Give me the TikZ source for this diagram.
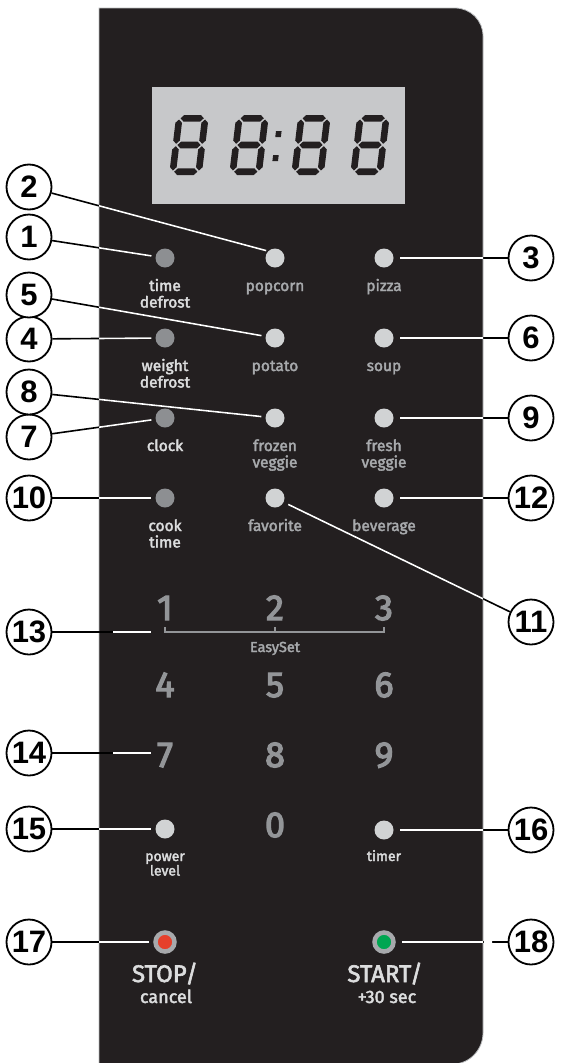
\documentclass[tikz,border=0pt]{standalone}
\usepackage{fontspec}
\setmainfont{Fira Sans}[FakeBold=2.4]
\newfontfamily\keyfont{Fira Sans}[FakeBold=3.5]
\newfontfamily\calloutfont{Liberation Sans}
\definecolor{panel}{HTML}{231F20}
\definecolor{lcd}{HTML}{C7C8CA}
\definecolor{btndark}{HTML}{8D8F92}
\definecolor{btnlight}{HTML}{D1D3D4}
\definecolor{lblwhite}{HTML}{DCDDDE}
\definecolor{lblgray}{HTML}{A7A9AC}
\definecolor{keygray}{HTML}{939598}
\definecolor{ringgray}{HTML}{A7A9AC}
\definecolor{stopred}{HTML}{E5402C}
\definecolor{startgreen}{HTML}{00A651}
\definecolor{edgegray}{HTML}{BCBEC0}
\newcommand\hseg[1]{\fill[panel] (-11.6,#1) -- (-8.3,#1-3.3) -- (8.3,#1-3.3) -- (11.6,#1) -- (8.3,#1+3.3) -- (-8.3,#1+3.3) -- cycle;}
\newcommand\vseg[3]{\fill[panel] (#1,#2+1.2) -- (#1+3.3,#2+4.5) -- (#1+3.3,#3-4.5) -- (#1,#3-1.2) -- (#1-3.3,#3-4.5) -- (#1-3.3,#2+4.5) -- cycle;}
\newcommand\eightdigit[1]{\begin{scope}[shift={(#1,145)},xslant=0.12]
\hseg{-26.7}\hseg{0}\hseg{26.7}\vseg{-13}{-26.7}{0}\vseg{13}{-26.7}{0}\vseg{-13}{0}{26.7}\vseg{13}{0}{26.7}
\end{scope}}
\begin{document}
\begin{tikzpicture}[x=1pt,y=-1pt,
  btndk/.style={circle,inner sep=0pt,minimum size=19pt,fill=btndark},
  btnlt/.style={circle,inner sep=0pt,minimum size=19pt,fill=btnlight},
  btnring/.style={circle,inner sep=0pt,minimum size=19pt,draw=ringgray,line width=4.5pt},
  lbl/.style={align=center,anchor=base,inner sep=0pt,font=\fontsize{15.5}{16.5}\selectfont},
  smalllbl/.style={align=center,anchor=base,inner sep=0pt,text=lblwhite,font=\fontsize{14}{14.5}\selectfont},
  keynum/.style={anchor=base,inner sep=0pt,text=keygray,font=\keyfont\fontsize{36}{36}\selectfont},
  callout/.style={circle,draw=black,line width=1.8pt,fill=white,minimum size=45pt,inner sep=0pt,font=\calloutfont\bfseries\fontsize{31}{31}\selectfont},
  conn/.style={line width=1.6pt},
  leftc/.style={conn,shorten >=4pt},
  rightc/.style={conn,shorten >=6pt}]
\fill[white] (0,0) rectangle (560,1063);
\useasboundingbox (0,0) rectangle (560,1063);
% panel
\filldraw[fill=panel,draw=edgegray,line width=0.8pt] (99,1064) -- (99,8) -- (455,8) .. controls (470.5,8) and (483,20.5) .. (483,36) -- (483,1033) .. controls (483,1049.6) and (469.6,1064) .. (453,1064) -- cycle;
% display
\fill[lcd] (152,87) rectangle (405,204);
\eightdigit{189}\eightdigit{249}\eightdigit{311}\eightdigit{370}
\begin{scope}[shift={(277,146)},xslant=0.12]
\fill[panel] (-2.8,-15) rectangle (2.8,-9);
\fill[panel] (-2.8,9) rectangle (2.8,15);
\end{scope}
% buttons
\node[btndk] (b1) at (165,258) {};
\node[btnlt] (b2) at (275,258) {};
\node[btnlt] (b3) at (384,258) {};
\node[btndk] (b4) at (165,338) {};
\node[btnlt] (b5) at (275,338) {};
\node[btnlt] (b6) at (384,338) {};
\node[btndk] (b7) at (165,418) {};
\node[btnlt] (b8) at (275,418) {};
\node[btnlt] (b9) at (384,418) {};
\node[btndk] (b10) at (165,498) {};
\node[btnlt] (b11) at (275,498) {};
\node[btnlt] (b12) at (384,498) {};
\node[btnlt] (b15) at (165,829) {};
\node[btnlt] (b16) at (384,830) {};
\node[btnring,fill=stopred] (b17) at (165,942) {};
\node[btnring,fill=startgreen] (b18) at (384,942) {};
\coordinate (t13) at (151,632);
\coordinate (t14) at (151,753);
% labels (anchor = baseline of the last line)
\node[lbl,text=lblwhite] (l1) at (165,307.5) {time\\defrost};
\node[lbl,text=lblgray] (l2) at (275,291) {popcorn};
\node[lbl,text=lblgray] (l3) at (384,291) {pizza};
\node[lbl,text=lblwhite] (l4) at (165,387.5) {weight\\defrost};
\node[lbl,text=lblgray] (l5) at (275,371) {potato};
\node[lbl,text=lblgray] (l6) at (384,371) {soup};
\node[lbl,text=lblwhite] (l7) at (165,451) {clock};
\node[lbl,text=lblgray] (l8) at (275,467.5) {frozen\\veggie};
\node[lbl,text=lblgray] (l9) at (384,467.5) {fresh\\veggie};
\node[lbl,text=lblwhite] (l10) at (165,547.5) {cook\\time};
\node[lbl,text=lblgray] (l11) at (275,531) {favorite};
\node[lbl,text=lblgray] (l12) at (384,531) {beverage};
\node[smalllbl] (l15) at (165,875.5) {power\\level};
\node[smalllbl] (l16) at (384,861) {timer};
\node[anchor=base,inner sep=0pt,text=lblwhite,font=\fontsize{24}{24}\selectfont] (l17a) at (165,982) {STOP/};
\node[anchor=base,inner sep=0pt,text=lblwhite,font=\fontsize{18}{18}\selectfont] (l17b) at (166,1003) {cancel};
\node[anchor=base,inner sep=0pt,text=lblwhite,font=\fontsize{24}{24}\selectfont] (l18a) at (385,982) {START/};
\node[anchor=base,inner sep=0pt,text=lblwhite,font=\fontsize{18}{18}\selectfont] (l18b) at (387,1003) {+30 sec};
% keypad
\node[keynum] (k1) at (165,620) {1};
\node[keynum] (k2) at (275,620) {2};
\node[keynum] (k3) at (384,620) {3};
\node[keynum] (k4) at (165,697) {4};
\node[keynum] (k5) at (275,697) {5};
\node[keynum] (k6) at (384,697) {6};
\node[keynum] (k7) at (165,767) {7};
\node[keynum] (k8) at (275,767) {8};
\node[keynum] (k9) at (384,767) {9};
\node[keynum] (k0) at (275,837) {0};
\draw[keygray,line width=1.2pt] (165,627) -- (165,632) -- (384,632) -- (384,627) (275,627) -- (275,632);
\node[anchor=base,inner sep=0pt,text=lblgray,font=\fontsize{14.5}{14.5}\selectfont] (easy) at (275,652) {EasySet};
% callouts
\node[callout] (c1) at (29,237) {1};
\node[callout] (c2) at (29,187) {2};
\node[callout] (c3) at (531,258) {3};
\node[callout] (c4) at (29,339) {4};
\node[callout] (c5) at (29,295) {5};
\node[callout] (c6) at (531,338) {6};
\node[callout] (c7) at (29,437) {7};
\node[callout] (c8) at (29,392) {8};
\node[callout] (c9) at (531,418) {9};
\node[callout] (c10) at (29,498) {10};
\node[callout] (c11) at (531,622) {11};
\node[callout] (c12) at (531,498) {12};
\node[callout] (c13) at (29,632) {13};
\node[callout] (c14) at (29,753) {14};
\node[callout] (c15) at (29,829) {15};
\node[callout] (c16) at (531,830) {16};
\node[callout] (c17) at (29,942) {17};
\node[callout] (c18) at (531,942) {18};
% connectors, black
\begin{scope}[black]
\draw[leftc] (c1) -- (b1);
\draw[leftc,shorten >=2pt] (c2) -- (b2.north west);
\draw[rightc] (c3) -- (b3);
\draw[leftc] (c4) -- (b4);
\draw[leftc] (c5) -- (b5);
\draw[rightc] (c6) -- (b6);
\draw[leftc] (c7) -- (b7);
\draw[leftc] (c8) -- (b8);
\draw[rightc] (c9) -- (b9);
\draw[leftc] (c10) -- (b10);
\draw[conn,shorten >=5pt] (c11) -- (b11);
\draw[rightc] (c12) -- (b12);
\draw[conn] (c13) -- (t13);
\draw[conn] (c14) -- (t14);
\draw[leftc] (c15) -- (b15);
\draw[rightc] (c16) -- (b16);
\draw[leftc] (c17) -- (b17);
\draw[rightc] (c18) -- (b18);
\end{scope}
% connectors, white where they cross the panel
\begin{scope}
\clip (99,1064) -- (99,8) -- (455,8) .. controls (470.5,8) and (483,20.5) .. (483,36) -- (483,1033) .. controls (483,1049.6) and (469.6,1064) .. (453,1064) -- cycle;
\begin{scope}[white]
\draw[leftc] (c1) -- (b1);
\draw[leftc,shorten >=2pt] (c2) -- (b2.north west);
\draw[rightc] (c3) -- (b3);
\draw[leftc] (c4) -- (b4);
\draw[leftc] (c5) -- (b5);
\draw[rightc] (c6) -- (b6);
\draw[leftc] (c7) -- (b7);
\draw[leftc] (c8) -- (b8);
\draw[rightc] (c9) -- (b9);
\draw[leftc] (c10) -- (b10);
\draw[conn,shorten >=5pt] (c11) -- (b11);
\draw[rightc] (c12) -- (b12);
\draw[leftc] (c15) -- (b15);
\draw[rightc] (c16) -- (b16);
\draw[leftc] (c17) -- (b17);
\draw[rightc] (c18) -- (b18);
\end{scope}
\end{scope}
\begin{scope}
\clip (113,600) rectangle (160,780);
\draw[conn,white] (c13) -- (t13);
\draw[conn,white] (c14) -- (t14);
\end{scope}
\begin{scope}
\clip (484.2,930) rectangle (492,955);
\draw[line width=3pt,white] (c18) -- (b18);
\end{scope}
\end{tikzpicture}
\end{document}
